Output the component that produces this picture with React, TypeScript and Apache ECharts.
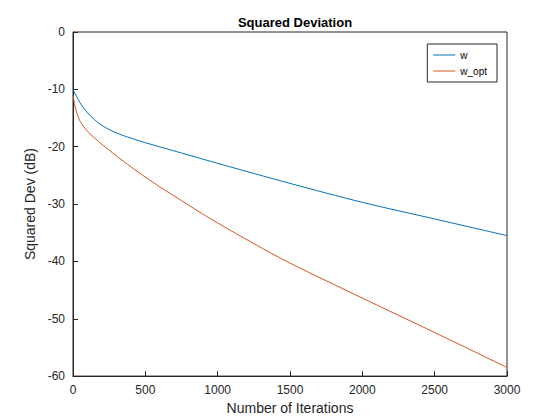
import * as React from "react";
import * as echarts from "echarts";

const wData: [number, number][] = [
  [0, -10], [20, -11], [50, -12.4], [100, -14.1], [150, -15.3], [200, -16.3], [300, -17.6],
  [400, -18.5], [500, -19.3], [750, -21.1], [1000, -22.9], [1500, -26.4], [2000, -29.7],
  [2500, -32.6], [3000, -35.5],
];
const wOptData: [number, number][] = [
  [0, -11], [20, -13.6], [50, -15.6], [100, -17.3], [150, -18.5], [200, -19.6], [250, -20.6],
  [300, -21.6], [400, -23.5], [500, -25.3], [600, -27.0], [700, -28.6], [800, -30.2],
  [900, -31.8], [1000, -33.3], [1250, -36.9], [1500, -40.3], [2000, -46.4],
  [2500, -52.4], [3000, -58.5],
];

const font = "Liberation Sans, Arial, sans-serif";

export default function App() {
  const ref = React.useRef<HTMLDivElement | null>(null);

  React.useEffect(() => {
    if (!ref.current) return;
    const chart = echarts.init(ref.current, undefined, { renderer: "svg" });
    const axisCommon = {
      axisLine: { show: true, onZero: false, lineStyle: { color: "#262626" } },
      axisTick: { show: true, inside: true, length: 5, lineStyle: { color: "#262626" } },
      axisLabel: { color: "#262626", fontFamily: font, fontSize: 12, formatter: (v: number) => String(v) },
      splitLine: { show: false },
      nameLocation: "middle" as const,
      nameTextStyle: { color: "#262626", fontFamily: font, fontSize: 14 },
    };
    chart.setOption({
      animation: false,
      backgroundColor: "#fff",
      title: {
        text: "Squared Deviation",
        left: 290,
        top: 11,
        textAlign: "center",
        textStyle: { fontFamily: font, fontSize: 13, fontWeight: "bold", color: "#000" },
      },
      grid: { left: 73, right: 53, top: 32, bottom: 43, show: true, borderColor: "#262626", borderWidth: 1 },
      legend: {
        top: 44,
        right: 63,
        orient: "vertical",
        itemWidth: 22,
        itemHeight: 1,
        itemGap: 6,
        padding: [6, 10, 6, 6],
        borderColor: "#262626",
        borderWidth: 1,
        borderRadius: 0,
        backgroundColor: "#fff",
        icon: "rect",
        textStyle: { fontFamily: font, fontSize: 10, color: "#000" },
        data: ["w", "w_opt"],
      },
      xAxis: {
        type: "value", min: 0, max: 3000, interval: 500,
        name: "Number of Iterations", nameGap: 22, ...axisCommon,
      },
      yAxis: {
        type: "value", min: -60, max: 0, interval: 10,
        name: "Squared Dev (dB)", nameGap: 30, ...axisCommon,
      },
      series: [
        { name: "w", type: "line", data: wData, smooth: 0.3, symbol: "none", lineStyle: { width: 1, color: "#0072BD" }, itemStyle: { color: "#0072BD" } },
        { name: "w_opt", type: "line", data: wOptData, smooth: 0.3, symbol: "none", lineStyle: { width: 1, color: "#D95319" }, itemStyle: { color: "#D95319" } },
      ],
    });
    return () => chart.dispose();
  }, []);

  return <div ref={ref} style={{ position: "fixed", left: 0, top: 0, width: 560, height: 420 }} />;
}
